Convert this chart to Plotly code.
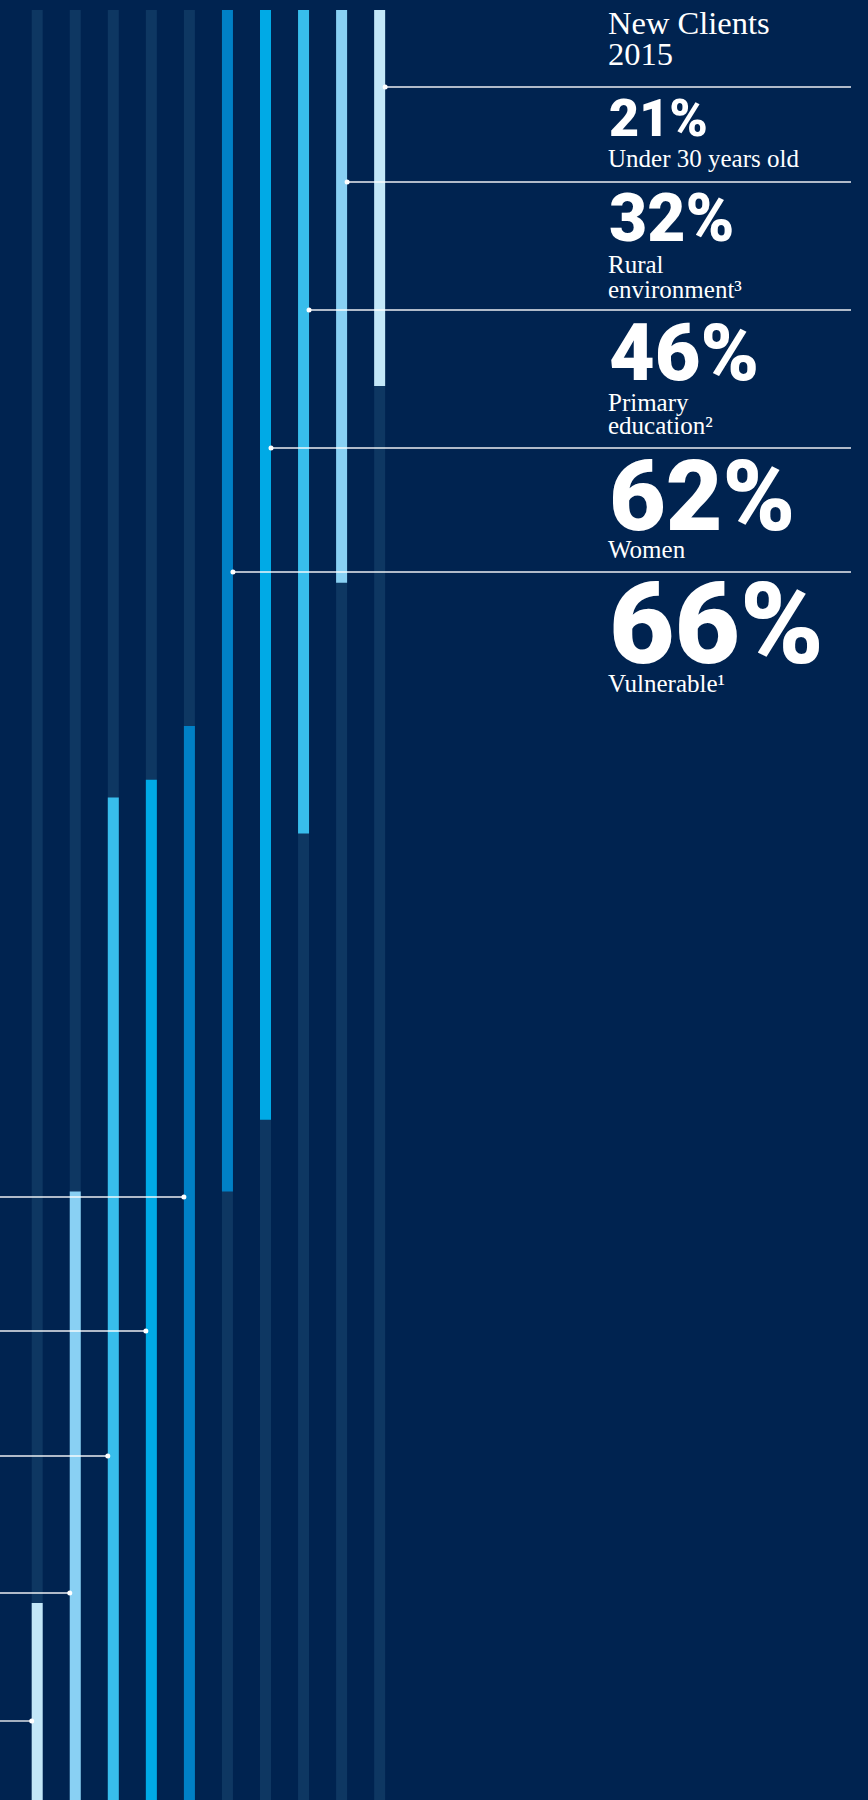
import plotly.graph_objects as go

# ---------------- data ----------------
categories = ["Vulnerable", "Women", "Primary education", "Rural environment", "Under 30 years old"]
new_clients_2015 = [66, 62, 46, 32, 21]        # bars hanging from the top (right group)
other_group = [60, 57, 56, 34, 11]             # bars rising from the bottom (left group)
value_labels = ["66%", "62%", "46%", "32%", "21%"]
label_lines = [["Vulnerable¹"], ["Women"], ["Primary", "education²"],
               ["Rural", "environment³"], ["Under 30 years old"]]
title_lines = ["New Clients", "2015"]

# ---------------- style ----------------
W, H = 868, 1800
BG = "#002350"
TRACK = "#0e3762"
COLORS = ["#0080c6", "#00aae6", "#38bdec", "#89d0f3", "#c3e7f8"]
N_COLS = 10
COL_PX = 38.05
COL0_PX = 37.2
BAR_PX = 11
TOP_PX = 10
PPY = (H - TOP_PX) / 100.0

XMIN = -COL0_PX / COL_PX
XMAX = XMIN + W / COL_PX
YMAX = H / PPY
BW = BAR_PX / COL_PX


def px2x(px):
    return px / COL_PX + XMIN


def px2y(py):
    return (H - py) / PPY


def xp(px):
    return px / W


def yp(py):
    return 1 - py / H


top_cols = [5 + i for i in range(5)]
bot_cols = [4 - i for i in range(5)]

fig = go.Figure()
# background tracks
fig.add_trace(go.Bar(x=list(range(N_COLS)), y=[100] * N_COLS, base=0, width=BW,
                     marker=dict(color=TRACK, line=dict(width=0)), hoverinfo="skip"))
# bars hanging from the top
fig.add_trace(go.Bar(x=top_cols, y=[-v for v in new_clients_2015], base=100, width=BW,
                     marker=dict(color=COLORS, line=dict(width=0)), hoverinfo="skip"))
# bars rising from the bottom
fig.add_trace(go.Bar(x=bot_cols, y=other_group, base=0, width=BW,
                     marker=dict(color=COLORS, line=dict(width=0)), hoverinfo="skip"))

# leader lines with dots
right_sep_py = [572, 448, 310, 182, 87]
left_sep_py = [1197, 1331, 1456, 1593, 1721]
LINE_COLOR = "rgba(255,255,255,0.92)"
dot_x, dot_y = [], []
for i in range(5):
    x0 = top_cols[i] + BW / 2
    y = px2y(right_sep_py[i])
    fig.add_shape(type="line", xref="x", yref="y", x0=x0, x1=px2x(851), y0=y, y1=y,
                  line=dict(color=LINE_COLOR, width=1.4), layer="above")
    dot_x.append(x0)
    dot_y.append(y)
    x1 = bot_cols[i] - BW / 2
    y2 = px2y(left_sep_py[i])
    fig.add_shape(type="line", xref="x", yref="y", x0=px2x(0), x1=x1, y0=y2, y1=y2,
                  line=dict(color=LINE_COLOR, width=1.4), layer="above")
    dot_x.append(x1)
    dot_y.append(y2)
fig.add_trace(go.Scatter(x=dot_x, y=dot_y, mode="markers",
                         marker=dict(color="white", size=5, line=dict(width=0)),
                         hoverinfo="skip"))

SERIF = "Liberation Serif"
NUMF = "Roboto Black"
TX = 606


def add_text(text, baseline, size, family, weight="normal", descent=0.216, x=TX):
    fig.add_annotation(text=text, xref="paper", yref="paper", x=xp(x),
                       y=yp(baseline + descent * size + 1), xanchor="left", yanchor="bottom",
                       showarrow=False, align="left",
                       font=dict(family=family, size=size, color="white", weight=weight))


add_text(title_lines[0], 35, 32.5, SERIF)
add_text(title_lines[1], 66, 32.5, SERIF)

num_baselines = [664, 531, 381, 242, 137]
num_sizes = [113, 98, 79, 66, 52]
label_baselines = [[693], [559], [412, 435], [274, 299], [168]]
for i in range(5):
    add_text(value_labels[i], num_baselines[i], num_sizes[i], NUMF, weight=900,
             descent=0.244, x=TX + 1)
    for line, b in zip(label_lines[i], label_baselines[i]):
        add_text(line, b, 25, SERIF)

fig.update_layout(
    width=W, height=H, autosize=False,
    margin=dict(l=0, r=0, t=0, b=0, pad=0),
    paper_bgcolor=BG, plot_bgcolor=BG,
    barmode="overlay", showlegend=False,
    xaxis=dict(range=[XMIN, XMAX], visible=False, fixedrange=True),
    yaxis=dict(range=[0, YMAX], visible=False, fixedrange=True),
)

fig.write_html("out.html", config={"displayModeBar": False},
               post_script="document.body.style.margin='0';document.body.style.background='%s';" % BG)
